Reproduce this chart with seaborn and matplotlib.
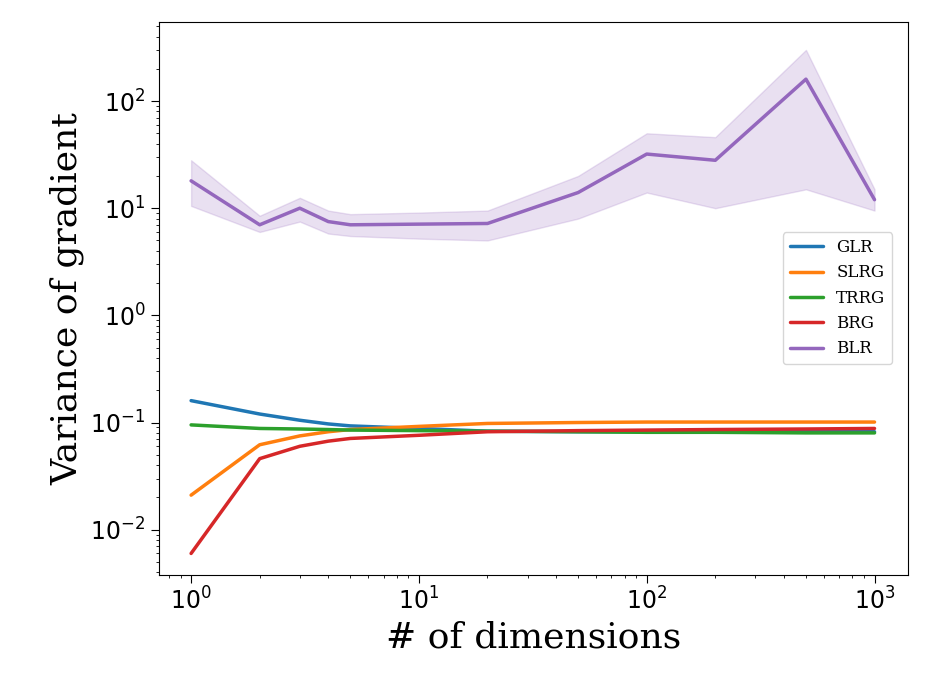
import numpy as np
import pandas as pd
import seaborn as sns
import matplotlib
matplotlib.use("Agg")
import matplotlib.pyplot as plt

dims = [1, 2, 3, 4, 5, 10, 20, 50, 100, 200, 500, 1000]
glr = [0.16, 0.12, 0.105, 0.097, 0.093, 0.088, 0.083, 0.082, 0.082, 0.082, 0.082, 0.082]
slrg = [0.021, 0.062, 0.075, 0.082, 0.086, 0.092, 0.098, 0.100, 0.101, 0.101, 0.101, 0.101]
trrg = [0.095, 0.088, 0.087, 0.086, 0.085, 0.084, 0.083, 0.082, 0.081, 0.081, 0.080, 0.080]
brg = [0.006, 0.046, 0.060, 0.067, 0.071, 0.076, 0.082, 0.084, 0.085, 0.086, 0.087, 0.088]
blr = [18, 7, 10, 7.5, 7, 7.1, 7.2, 14, 32, 28, 160, 12]
blr_lo = [10.5, 6, 7.5, 5.8, 5.5, 5.2, 5, 8, 14, 10, 15, 9.5]
blr_hi = [28, 8.5, 12.5, 9.5, 8.8, 9.1, 9.5, 20, 50, 46, 300, 15]
names = ["GLR", "SLRG", "TRRG", "BRG", "BLR"]
series = [glr, slrg, trrg, brg, blr]

df = pd.concat([pd.DataFrame({"dim": dims, "var": s, "method": n}) for n, s in zip(names, series)])

sns.set_style("ticks")
plt.rcParams.update({"text.color": "black", "axes.labelcolor": "black",
                     "xtick.color": "black", "ytick.color": "black",
                     "axes.edgecolor": "black"})
fig = plt.figure(figsize=(9.33, 7.0), dpi=100)
ax = fig.add_axes([0.170, 0.179, 0.803, 0.790])
pal = ["#1f77b4", "#ff7f0e", "#2ca02c", "#d62728", "#9467bd"]
sns.lineplot(data=df, x="dim", y="var", hue="method", palette=pal, linewidth=2.5, ax=ax)
ax.fill_between(dims, blr_lo, blr_hi, color="#9467bd", alpha=0.2)
ax.set_xscale("log")
ax.set_yscale("log")
ax.set_ylim(3.8e-3, 5.5e2)
ax.set_xlim(0.72, 1400)
ax.tick_params(labelsize=17, which="major", length=6)
ax.set_xlabel("# of dimensions", fontsize=26, family="DejaVu Serif")
ax.set_ylabel("Variance of gradient", fontsize=26, family="DejaVu Serif")
leg = ax.legend(loc="center right", bbox_to_anchor=(0.99, 0.5),
                prop={"family": "DejaVu Serif", "size": 12}, fancybox=True)
leg.set_title(None)
fig.savefig("out.png", dpi=100)
